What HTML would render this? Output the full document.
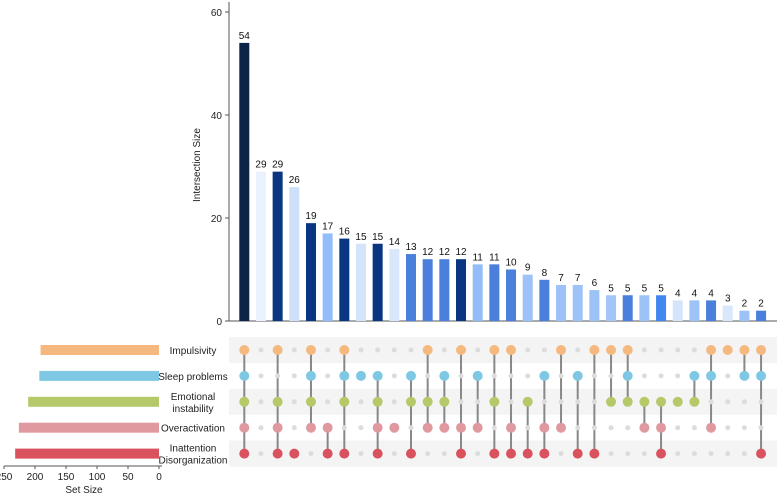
<!DOCTYPE html>
<html><head><meta charset="utf-8"><style>
html,body{margin:0;padding:0;background:#fff;}
svg{display:block;font-family:"Liberation Sans",Arial,sans-serif;}
</style></head><body>
<svg id="chart" width="777" height="496" viewBox="0 0 777 496"></svg>
<script>
const setNames = ["Impulsivity","Sleep problems","Emotional instability","Overactivation","Inattention Disorganization"];
const setLabelLines = [["Impulsivity"],["Sleep problems"],["Emotional","instability"],["Overactivation"],["Inattention","Disorganization"]];
const setSizes = [191,193,211,226,232];
const setColors = ["#f5b97f","#7ec8e3","#b5c96a","#e0999f","#d9525e"];
const intersectionSizes = [54,29,29,26,19,17,16,15,15,14,13,12,12,12,11,11,10,9,8,7,7,6,5,5,5,5,4,4,4,3,2,2];
const barColors = ["#0b2447","#eaf2ff","#0a3580","#cfe0fb","#0a3580","#93bdf8","#0a3580","#d4e4fb","#0a3580","#d8e7fc","#4a7fdc","#4a7fdc","#4a7fdc","#0a3580","#93bdf8","#4a7fdc","#4a7fdc","#9cc2f8","#4a7fdc","#9cc2f8","#9cc2f8","#9cc2f8","#a2c6f8","#4a7fdc","#9cc2f8","#3f86f0","#d4e4fb","#9cc2f8","#4a7fdc","#d8e7fc","#9cc2f8","#4a7fdc"];
// membership: indices of sets (0=I,1=S,2=E,3=O,4=D)
const memberships = [[0,1,2,3,4],[],[0,2,3,4],[4],[0,1,2,3],[3,4],[0,1,2,4],[1],[1,2,3,4],[3],[1,2,4],[0,2,3],[1,2,3],[0,3,4],[1,3],[0,2,4],[0,3,4],[2,4],[1,3,4],[0,3],[1,4],[0,4],[0,2],[0,1,2],[2,3],[2,3,4],[2],[1,2],[0,1,3],[0],[0,1],[0,1,4]];
const yTicks = [0,20,40,60];
const setTicks = [250,200,150,100,50,0];

const svg = document.getElementById('chart');
const NS = "http://www.w3.org/2000/svg";
function mk(tag, attrs, parent){const e=document.createElementNS(NS,tag);for(const k in attrs)e.setAttribute(k,attrs[k]);(parent||svg).appendChild(e);return e;}

const colX = i => 244.3 + i*16.67;
const yScale = v => 321 - v*(103/20);
const rowY = r => 350 + r*25.9;
const setX = v => 159 - v*0.62;

// row bands
for(let r=0;r<5;r+=2){
  const b=mk('rect',{x:229,y:rowY(r)-13,width:548,height:26,fill:'#f4f4f4'});
  
  
}
// y axis
const ya=mk('line',{x1:229,y1:2,x2:229,y2:321,stroke:'#555','stroke-width':1});


const xa=mk('line',{x1:229,y1:321,x2:777,y2:321,stroke:'#555','stroke-width':1});


yTicks.forEach(t=>{
  const tk=mk('line',{x1:225,y1:yScale(t),x2:229,y2:yScale(t),stroke:'#555'});
  
  
  const tl=mk('text',{x:222,y:yScale(t)+4,'text-anchor':'end','font-size':10,fill:'#222'});
  tl.textContent=t;
  
  
});
const yt=mk('text',{x:0,y:0,transform:'translate(200,165) rotate(-90)','text-anchor':'middle','font-size':10,fill:'#222'});
yt.textContent='Intersection Size';



// bars
intersectionSizes.forEach((v,i)=>{
  const x=colX(i);
  const r=mk('rect',{x:x-5,y:yScale(v),width:10,height:yScale(0)-yScale(v),fill:barColors[i]});
  
  
  const t=mk('text',{x:x,y:yScale(v)-4,'text-anchor':'middle','font-size':10,fill:'#111'});
  t.textContent=v;
  
  
});

// matrix
memberships.forEach((m,i)=>{
  const x=colX(i);
  if(m.length>1){
    const mn=Math.min(...m),mx=Math.max(...m);
    const l=mk('line',{x1:x,y1:rowY(mn),x2:x,y2:rowY(mx),stroke:'#888','stroke-width':2});
    
    
  }
  for(let r=0;r<5;r++){
    const on=m.includes(r);
    const c=mk('circle',{cx:x,cy:rowY(r),r:on?5:2.5,fill:on?setColors[r]:'#dcdcdc'});
    
    
  }
});

// set size bars & labels
setSizes.forEach((v,r)=>{
  const b=mk('rect',{x:setX(v),y:rowY(r)-5,width:159-setX(v),height:10,fill:setColors[r]});
  
  
  const lines=setLabelLines[r];
  lines.forEach((ln,k)=>{
    const t=mk('text',{x:193,y:rowY(r)+4+(k-(lines.length-1)/2)*12,'text-anchor':'middle','font-size':10,fill:'#222'});
    t.textContent=ln;
    
    
  });
});
const sa=mk('line',{x1:setX(250),y1:466,x2:162,y2:466,stroke:'#555'});


setTicks.forEach(t=>{
  const tk=mk('line',{x1:setX(t),y1:466,x2:setX(t),y2:469,stroke:'#555'});
  
  
  const tl=mk('text',{x:setX(t),y:480,'text-anchor':'middle','font-size':10,fill:'#222'});
  tl.textContent=t;
  
  
});
const st=mk('text',{x:84,y:493,'text-anchor':'middle','font-size':10,fill:'#222'});
st.textContent='Set Size';


</script>
</body></html>
